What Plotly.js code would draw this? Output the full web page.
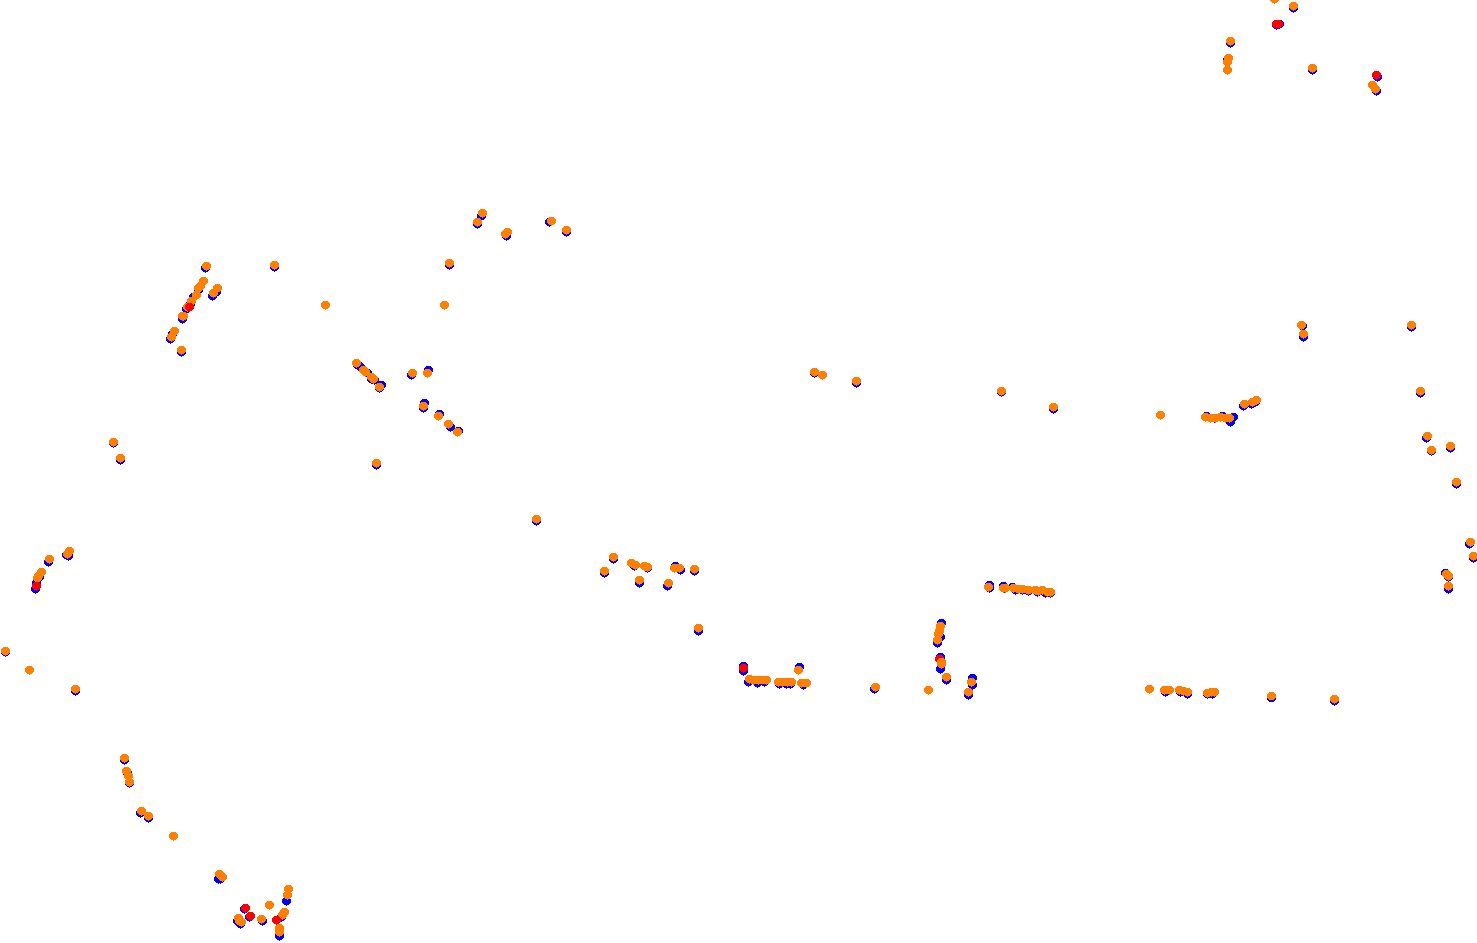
<!DOCTYPE html>
<html><head><meta charset="utf-8">
<script src="https://cdn.plot.ly/plotly-3.0.1.min.js"></script>
<style>html,body{margin:0;padding:0;background:#fff;overflow:hidden}#chart{width:1477px;height:943px}.scatterlayer path.point{shape-rendering:crispEdges}</style>
</head><body><div id="chart"></div>
<script>
const blueX=[1293,1276,1279,1230,1227,1312,1377,1376,481,477,506,549,566,449,205,274,198,193,190,186,182,172,170,181,216,212,357,359,362,365,367,371,374,379,381,411,428,424,423,439,450,458,113,120,376,536,66,68,48,39,36,35,5,75,124,127,129,140,148,218,220,286,281,279,262,244,249,240,237,743,743,748,757,764,779,786,790,803,799,874,941,940,937,940,940,946,972,972,968,989,989,1003,1004,1012,1015,1022,1028,1037,1045,1050,1206,1214,1222,1233,1230,1243,1251,1255,814,856,1001,1053,1411,1302,1303,1420,1426,1431,1450,1456,1469,1473,1445,1448,1448,1165,1180,1187,1207,1212,1271,1334,604,613,634,647,639,667,675,680,694,698];
const blueY=[8,25,24,43,60,70,77,91,216,224,236,222,232,265,268,267,290,297,304,309,319,334,339,352,292,296,365,366,369,372,373,379,380,388,385,375,370,403,408,414,427,431,443,460,465,521,555,556,562,577,583,589,652,691,760,773,783,813,818,879,879,901,917,936,921,909,917,924,921,666,671,682,683,682,684,684,684,685,667,689,623,637,643,657,669,680,678,685,695,585,588,586,588,587,590,590,591,592,593,593,416,418,416,417,422,406,404,402,373,383,392,409,327,326,337,393,438,451,448,484,544,558,573,577,589,692,692,694,694,694,698,701,573,559,566,568,583,586,566,570,571,631];
const redX=[1276,1278,1376,189,36,743,939,245,250,276];
const redY=[24,24,75,307,586,668,659,908,916,920];
const orangeX=[1274,1293,1230,1228,1227,1227,1312,1372,1375,482,477,507,505,551,566,449,206,274,325,444,203,200,198,196,191,187,183,182,174,171,181,217,213,356,363,365,371,373,379,412,427,423,438,448,457,113,120,376,536,69,67,49,41,38,37,5,29,75,124,126,128,129,141,148,173,219,222,288,287,284,282,279,279,269,261,238,239,241,749,753,758,763,766,778,782,787,791,801,806,798,875,928,940,939,938,937,946,971,968,988,1003,1005,1013,1018,1022,1028,1035,1038,1042,1047,1050,1160,1053,1001,856,814,822,1205,1210,1215,1220,1225,1229,1244,1252,1256,1411,1301,1303,1420,1427,1431,1450,1456,1470,1473,1446,1448,1448,1149,1164,1169,1179,1183,1187,1207,1211,1214,1271,1334,613,604,631,635,644,647,639,668,674,679,694,698];
const orangeY=[-1,6,41,58,62,70,68,85,89,213,222,232,234,221,230,263,266,265,305,305,281,286,288,295,301,307,316,316,331,337,350,288,293,363,370,372,377,379,387,373,373,406,416,424,432,442,458,463,519,551,554,559,572,576,578,651,670,689,758,771,776,782,811,816,836,874,877,889,895,912,915,928,932,905,919,918,921,922,679,680,680,680,680,682,682,682,682,683,683,670,687,690,626,631,634,640,677,682,692,587,588,588,588,589,589,590,590,591,590,592,592,415,407,391,381,372,375,417,418,418,417,418,418,404,402,400,325,325,334,391,436,450,446,482,542,556,574,576,586,689,690,690,690,691,692,693,692,692,696,699,557,571,563,565,566,567,580,583,568,568,569,628];
const orangeTopX=[941,941];
const orangeTopY=[662,664];
const mk=(x,y,color)=>({x,y,type:'scatter',mode:'markers',marker:{color,size:9,line:{width:0}},hoverinfo:'skip',showlegend:false});
const hidden={visible:false,fixedrange:true};
Plotly.newPlot('chart',[
  mk(blueX,blueY,'#0000ff'),
  mk(orangeX,orangeY,'#ff8000'),
  mk(redX,redY,'#ff0000'),
  mk(orangeTopX,orangeTopY,'#ff8000')
],{
  width:1477,height:943,margin:{l:0,r:0,t:0,b:0},
  paper_bgcolor:'#fff',plot_bgcolor:'#fff',showlegend:false,
  xaxis:{...hidden,range:[-0.5,1476.5]},
  yaxis:{...hidden,range:[943,0]}
},{displayModeBar:false,staticPlot:true});
</script></body></html>
